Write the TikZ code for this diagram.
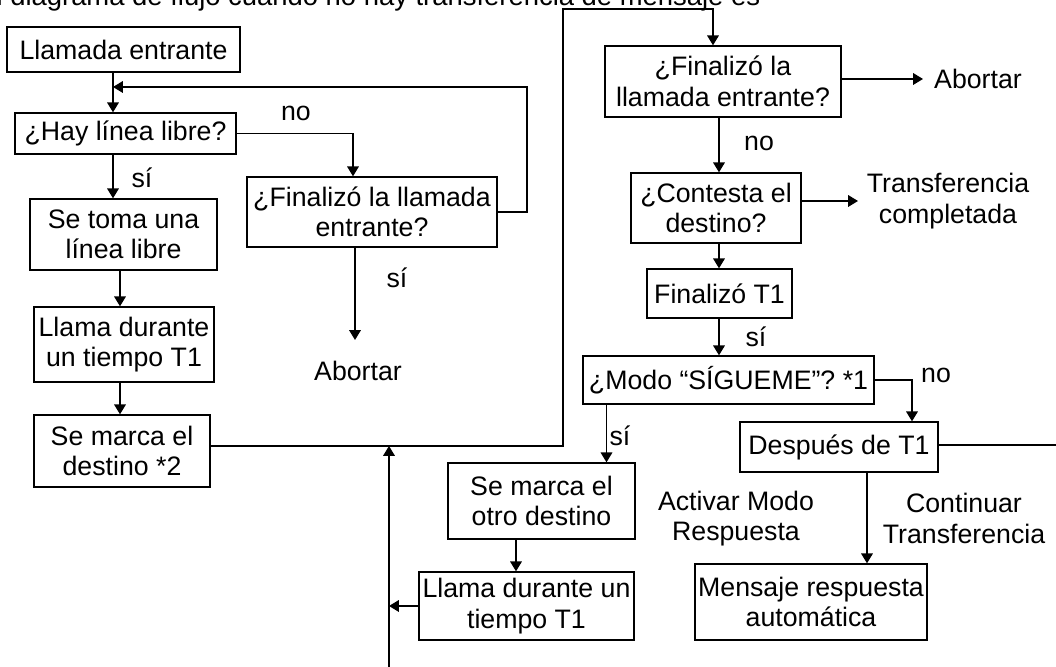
\documentclass[tikz,border=0pt]{standalone}
\usepackage{fontspec}
\setmainfont{Liberation Sans}
\usepackage{xcolor}
\usepackage{tikz}
\usetikzlibrary{arrows.meta, positioning, calc}
\newcommand{\flowfont}{\fontsize{15.2}{17.3}\selectfont}
\tikzset{
  %% -- process / question box --
  flow/box/.style={
    draw, line width=0.75pt, inner sep=0pt,
    align=center, font=\flowfont
  },
  %% -- free text and branch labels --
  flow/lbl/.style={inner sep=0pt, align=center, font=\flowfont},
  %% -- connector with arrow --
  flow/arr/.style={-{Triangle[length=5.6pt,width=6.6pt]}, line width=0.75pt},
  %% -- connector without arrow --
  flow/line/.style={line width=0.75pt},
}
\begin{document}
\begin{tikzpicture}[x=1cm, y=1cm]
\useasboundingbox (0,0) rectangle (21.12,13.34);

%% Heading line (cut at the top)
\node[flow/lbl, anchor=base west, font=\fontsize{15.6}{18}\selectfont]
  (intro) at (-0.44, 13.23)
  {El diagrama de flujo cuando no hay transferencia de mensaje es};

%% Nodes -- left column
\node[flow/box, minimum width=4.66cm, minimum height=0.90cm] (entrada) at (2.47, 12.35)
  {Llamada entrante};
\node[flow/box, minimum width=4.42cm, minimum height=0.82cm] (libre)   at (2.51, 10.67)
  {¿Hay línea libre?};
\node[flow/box, minimum width=3.74cm, minimum height=1.42cm] (toma)    at (2.47, 8.65)
  {Se toma una\\línea libre};
\node[flow/box, minimum width=3.60cm, minimum height=1.50cm] (llama1)  at (2.48, 6.45)
  {Llama durante\\un tiempo T1};
\node[flow/box, minimum width=3.52cm, minimum height=1.44cm] (marca)   at (2.44, 4.32)
  {Se marca el\\destino *2};
\node[flow/box, minimum width=5.00cm, minimum height=1.40cm] (fin1)    at (7.44, 9.10)
  {¿Finalizó la llamada\\entrante?};

%% Nodes -- right part
\node[flow/box, minimum width=4.72cm, minimum height=1.42cm] (fin2)     at (14.46, 11.71)
  {¿Finalizó la\\llamada entrante?};
\node[flow/box, minimum width=3.40cm, minimum height=1.40cm] (contesta) at (14.32, 9.18)
  {¿Contesta el\\destino?};
\node[flow/box, minimum width=2.90cm, minimum height=0.98cm] (finT)     at (14.39, 7.47)
  {Finalizó T1};
\node[flow/box, minimum width=5.82cm, minimum height=0.96cm] (modo)     at (14.57, 5.74)
  {¿Modo “SÍGUEME”? *1};
\node[flow/box, minimum width=3.96cm, minimum height=1.00cm] (despues)  at (16.78, 4.40)
  {Después de T1};
\node[flow/box, minimum width=3.74cm, minimum height=1.52cm] (otro)     at (10.83, 3.32)
  {Se marca el\\otro destino};
\node[flow/box, minimum width=4.30cm, minimum height=1.36cm] (llama2)   at (10.53, 1.22)
  {Llama durante un\\tiempo T1};
\node[flow/box, minimum width=4.64cm, minimum height=1.52cm] (mensaje)  at (16.22, 1.30)
  {Mensaje respuesta\\automática};

%% Free texts
\node[flow/lbl] (abortar1)  at (7.16, 5.92)   {Abortar};
\node[flow/lbl] (abortar2)  at (19.56, 11.76) {Abortar};
\node[flow/lbl] (transf)    at (18.96, 9.32)  {Transferencia\\completada};
\node[flow/lbl] (activar)   at (14.72, 2.97)  {Activar Modo\\Respuesta};
\node[flow/lbl] (continuar) at (19.28, 2.97)  {Continuar\\Transferencia};

%% Branch labels
\node[flow/lbl] (no1) at (5.92, 11.08)  {no};
\node[flow/lbl] (si1) at (2.84, 9.78)   {sí};
\node[flow/lbl] (si2) at (7.94, 7.78)   {sí};
\node[flow/lbl] (no2) at (15.18, 10.48) {no};
\node[flow/lbl] (si3) at (15.12, 6.60)  {sí};
\node[flow/lbl] (no3) at (18.72, 5.84)  {no};
\node[flow/lbl] (si4) at (12.40, 4.62)  {sí};

%% Helper points for the vertical lines and free ends
\coordinate (colA)  at (2.26, 0);
\coordinate (colB)  at (2.40, 0);
\coordinate (colR)  at (14.38, 0);
\coordinate (colM)  at (12.13, 0);
\coordinate (colO)  at (10.32, 0);
\coordinate (colD)  at (17.34, 0);
\coordinate (colN)  at (18.24, 0);
\coordinate (loopR) at (10.54, 11.60);
\coordinate (topL)  at (11.26, 13.16);
\coordinate (jn)    at (7.78, 4.42);
\coordinate (jnbot) at (7.78, 0);
\coordinate (ab1)   at (7.10, 6.54);
\coordinate (ab2)   at (18.46, 11.76);
\coordinate (tc)    at (17.16, 9.32);
\coordinate (redge) at (21.12, 4.44);

%% Left column
\draw[flow/arr] (entrada.south -| colA) -- (libre.north -| colA);
\draw[flow/arr] (libre.south -| colA) -- (toma.north -| colA);
\draw[flow/arr] (toma.south -| colB) -- (llama1.north -| colB);
\draw[flow/arr] (llama1.south -| colB) -- (marca.north -| colB);

%% No free line: wait for the caller
\draw[flow/arr] (libre.east) -| ([xshift=-0.38cm]fin1.north);
\draw[flow/arr] (fin1.east) -| (loopR) -- (loopR -| colA);
\draw[flow/arr] (fin1.south -| ab1) -- (ab1);

%% Dialled destination goes over to the right part
\draw[flow/arr] (marca.east |- jn) -| (topL) -| ([xshift=-0.2cm]fin2.north);
\draw[flow/arr] (jnbot) -- (jn);
\draw[flow/arr] (llama2.west) -- (llama2.west -| jn);

%% Right column
\draw[flow/arr] (fin2.east |- ab2) -- (ab2);
\draw[flow/arr] (fin2.south -| colR) -- (contesta.north -| colR);
\draw[flow/arr] (contesta.east |- tc) -- (tc);
\draw[flow/arr] (contesta.south -| colR) -- (finT.north -| colR);
\draw[flow/arr] (finT.south -| colR) -- (modo.north -| colR);
\draw[flow/arr] (modo.east) -| (despues.north -| colN);
\draw[flow/arr] (modo.south -| colM) -- (otro.north -| colM);
\draw[flow/arr] (otro.south -| colO) -- (llama2.north -| colO);
\draw[flow/arr] (despues.south -| colD) -- (mensaje.north -| colD);
\draw[flow/line] (despues.east |- redge) -- (redge);
\end{tikzpicture}
\end{document}
